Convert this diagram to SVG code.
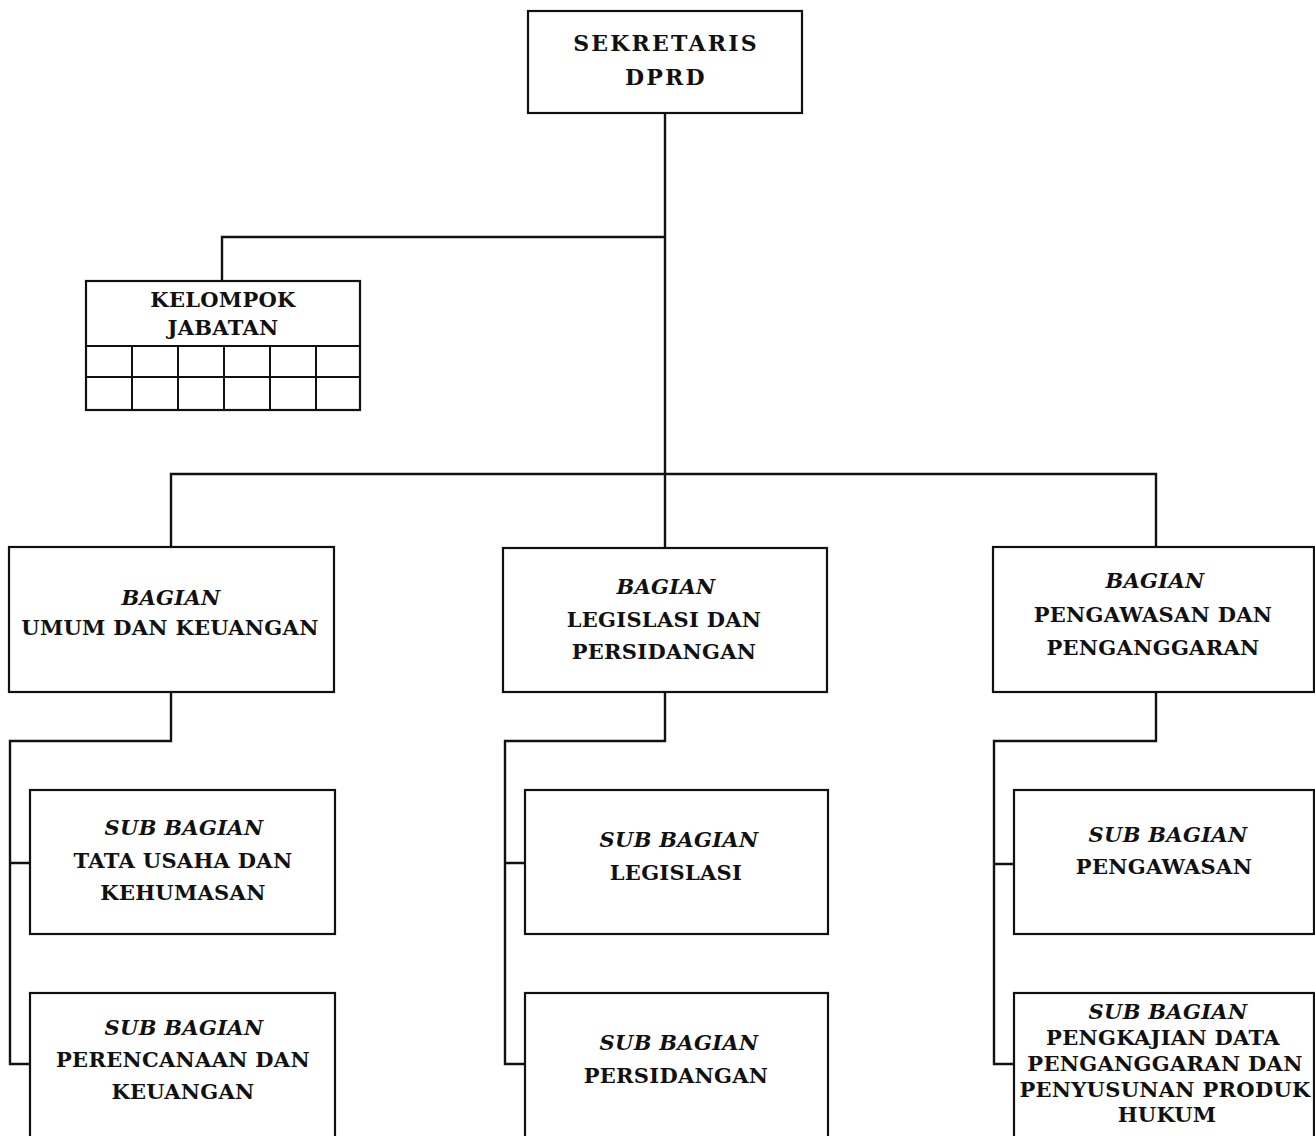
<svg xmlns="http://www.w3.org/2000/svg" width="1315" height="1136" viewBox="0 0 1315 1136">
<style>
.box{fill:#fff;stroke:#111;stroke-width:2.2}
.ln{fill:none;stroke:#111;stroke-width:2.4}
text{font-family:"DejaVu Serif","Liberation Serif",serif;font-weight:bold;font-size:21px;letter-spacing:0.3px;fill:#111;text-anchor:middle}
.it{font-style:italic}
.big{font-size:22px;letter-spacing:2.2px}
</style>
<rect width="1315" height="1136" fill="#fff"/>
<g id="connectors">
<path class="ln" d="M665,113 V548"/>
<path class="ln" d="M665,237 H222 V281"/>
<path class="ln" d="M171,547 V474 H1156 V547"/>
<path class="ln" d="M171,692 V741 H10 V1064 H30 M10,863 H30"/>
<path class="ln" d="M665,692 V741 H505 V1064 H525 M505,863 H525"/>
<path class="ln" d="M1156,692 V741 H994 V1064 H1014 M994,864 H1014"/>
</g>
<g id="sekretaris">
<rect class="box" x="528" y="11" width="274" height="102"/>
<text class="big" x="666" y="51">SEKRETARIS</text>
<text class="big" x="666" y="85">DPRD</text>
</g>
<g id="kelompok-jabatan">
<rect class="box" x="86" y="281" width="274" height="129"/>
<path class="ln" d="M86,346 H360 M86,377 H360 M132,346 V410 M178,346 V410 M224,346 V410 M270,346 V410 M316,346 V410" style="stroke-width:2"/>
<text x="223" y="307">KELOMPOK</text>
<text x="223" y="335">JABATAN</text>
</g>
<g id="bagian-umum">
<rect class="box" x="9" y="547" width="325" height="145"/>
<text class="it" x="171" y="605">BAGIAN</text>
<text x="170" y="635">UMUM DAN KEUANGAN</text>
</g>
<g id="bagian-legislasi">
<rect class="box" x="503" y="548" width="324" height="144"/>
<text class="it" x="666" y="594">BAGIAN</text>
<text x="664" y="627">LEGISLASI DAN</text>
<text x="664" y="659">PERSIDANGAN</text>
</g>
<g id="bagian-pengawasan">
<rect class="box" x="993" y="547" width="321" height="145"/>
<text class="it" x="1155" y="588">BAGIAN</text>
<text x="1153" y="622">PENGAWASAN DAN</text>
<text x="1153" y="655">PENGANGGARAN</text>
</g>
<g id="sub-tata-usaha">
<rect class="box" x="30" y="790" width="305" height="144"/>
<text class="it" x="184" y="835">SUB BAGIAN</text>
<text x="183" y="868">TATA USAHA DAN</text>
<text x="183" y="900">KEHUMASAN</text>
</g>
<g id="sub-perencanaan">
<rect class="box" x="30" y="993" width="305" height="150"/>
<text class="it" x="184" y="1035">SUB BAGIAN</text>
<text x="183" y="1067">PERENCANAAN DAN</text>
<text x="183" y="1099">KEUANGAN</text>
</g>
<g id="sub-legislasi">
<rect class="box" x="525" y="790" width="303" height="144"/>
<text class="it" x="679" y="847">SUB BAGIAN</text>
<text x="676" y="880">LEGISLASI</text>
</g>
<g id="sub-persidangan">
<rect class="box" x="525" y="993" width="303" height="150"/>
<text class="it" x="679" y="1050">SUB BAGIAN</text>
<text x="676" y="1083">PERSIDANGAN</text>
</g>
<g id="sub-pengawasan">
<rect class="box" x="1014" y="790" width="300" height="144"/>
<text class="it" x="1168" y="842">SUB BAGIAN</text>
<text x="1164" y="874">PENGAWASAN</text>
</g>
<g id="sub-pengkajian">
<rect class="box" x="1014" y="993" width="300" height="150"/>
<text class="it" x="1168" y="1019">SUB BAGIAN</text>
<text x="1163" y="1045">PENGKAJIAN DATA</text>
<text x="1165" y="1071">PENGANGGARAN DAN</text>
<text x="1165" y="1097">PENYUSUNAN PRODUK</text>
<text x="1167" y="1122">HUKUM</text>
</g>
</svg>
